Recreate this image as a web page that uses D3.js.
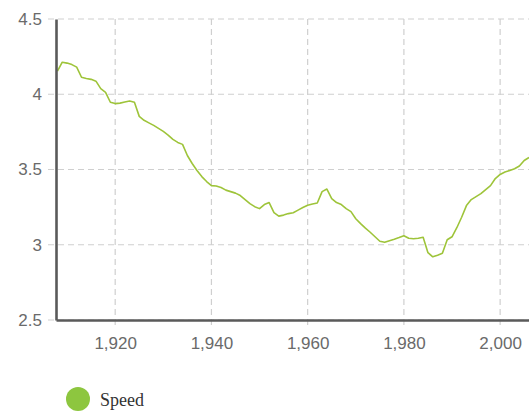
<!DOCTYPE html>
<html>
<head>
<meta charset="utf-8">
<script src="https://cdn.jsdelivr.net/npm/d3@7"></script>
<style>
  html, body { margin: 0; padding: 0; background: #fff; }
  svg { display: block; }
</style>
</head>
<body>
<svg id="chart" width="529" height="416"></svg>
<script>
const years = [];
for (let yr = 1908; yr <= 2006; yr++) years.push(yr);

const speed = [
  4.153, 4.213, 4.207, 4.197, 4.18, 4.113, 4.105, 4.099, 4.087, 4.037,
  4.013, 3.947, 3.938, 3.941, 3.948, 3.955, 3.947, 3.853, 3.827, 3.81,
  3.793, 3.773, 3.753, 3.729, 3.70, 3.68, 3.667, 3.593, 3.54, 3.493,
  3.453, 3.42, 3.393, 3.39, 3.38, 3.363, 3.353, 3.343, 3.327, 3.30,
  3.273, 3.253, 3.24, 3.267, 3.28, 3.213, 3.19, 3.197, 3.207, 3.213,
  3.23, 3.247, 3.263, 3.271, 3.277, 3.353, 3.37, 3.307, 3.28, 3.267,
  3.24, 3.22, 3.173, 3.14, 3.11, 3.083, 3.053, 3.023, 3.016, 3.027,
  3.037, 3.048, 3.06, 3.043, 3.04, 3.043, 3.05, 2.947, 2.92, 2.93,
  2.943, 3.033, 3.053, 3.113, 3.183, 3.26, 3.30, 3.32, 3.34, 3.367,
  3.393, 3.44, 3.467, 3.483, 3.493, 3.505, 3.523, 3.56, 3.58
];

const xTicks = [1920, 1940, 1960, 1980, 2000];
const yTicks = [2.5, 3, 3.5, 4, 4.5];
const seriesName = "Speed";

const svg = d3.select("#chart");
const mLeft = 56, mRight = 529, mTop = 19, mBottom = 320;

const x = d3.scaleLinear().domain([1907.7, 2006]).range([mLeft, mRight]);
const y = d3.scaleLinear().domain([2.5, 4.5]).range([mBottom, mTop]);

// grid
const grid = svg.append("g").attr("stroke", "#cfcfcf").attr("stroke-width", 1.2)
  .attr("stroke-dasharray", "6,4").attr("fill", "none");
grid.selectAll("line.h").data(yTicks).enter().append("line")
  .attr("x1", mLeft - 8).attr("x2", mRight)
  .attr("y1", d => y(d)).attr("y2", d => y(d));
grid.selectAll("line.v").data(xTicks).enter().append("line")
  .attr("x1", d => x(d)).attr("x2", d => x(d))
  .attr("y1", mTop).attr("y2", mBottom + 8);

// line
const line = d3.line().x((d, i) => x(years[i])).y(d => y(d));
svg.append("path").datum(speed)
  .attr("d", line)
  .attr("fill", "none")
  .attr("stroke", "#9ec43a")
  .attr("stroke-width", 1.6)
  .attr("stroke-linejoin", "round");

// axes
const yAxis = d3.axisLeft(y).tickValues(yTicks).tickSize(0).tickPadding(14)
  .tickFormat(d => String(d));
const xAxis = d3.axisBottom(x).tickValues(xTicks).tickSize(0).tickPadding(17)
  .tickFormat(d3.format(","));

const gy = svg.append("g").attr("transform", `translate(${mLeft},0)`).call(yAxis);
const gx = svg.append("g").attr("transform", `translate(0,${mBottom})`).call(xAxis);

[gx, gy].forEach(g => {
  g.select(".domain").attr("stroke", "#5a5a5a").attr("stroke-width", 2.6);
  g.selectAll("text").attr("fill", "#6a6a6a")
    .style("font-family", "'Liberation Sans', Arial, sans-serif")
    .style("font-size", "17px");
});

// legend
const legend = svg.append("g");
legend.append("circle").attr("cx", 78).attr("cy", 399).attr("r", 12)
  .attr("fill", "#8dc63f");
legend.append("text").attr("x", 100).attr("y", 406)
  .text(seriesName)
  .attr("fill", "#333")
  .style("font-family", "'Liberation Serif', 'Times New Roman', serif")
  .style("font-size", "18px");
</script>
</body>
</html>
